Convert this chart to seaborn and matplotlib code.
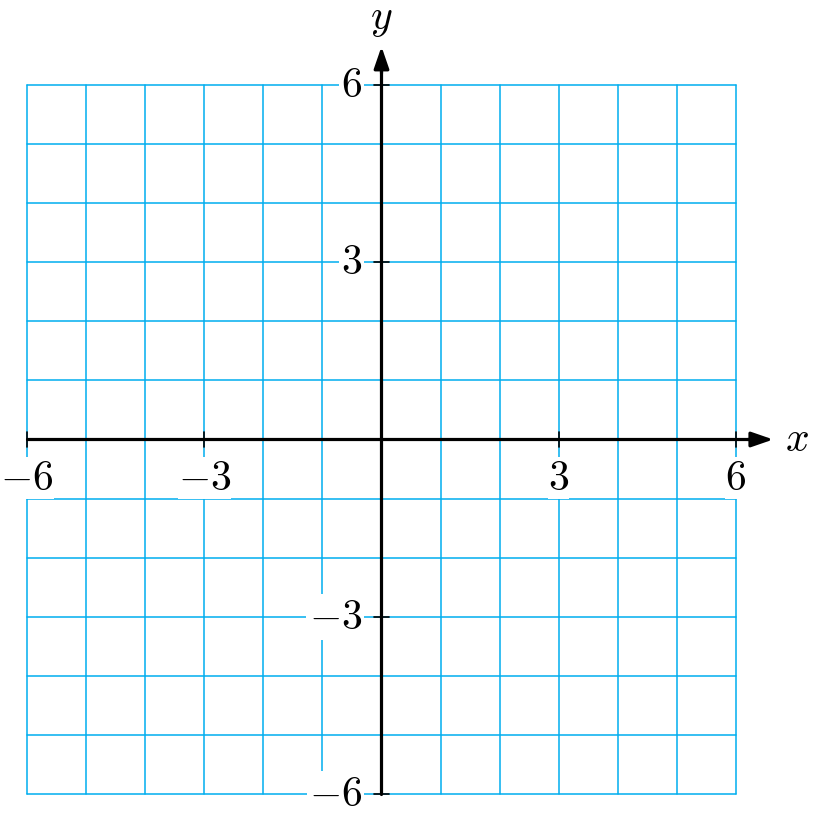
import numpy as np
import pandas as pd
import matplotlib.pyplot as plt
import seaborn as sns

# ── Data ────────────────────────────────────────────────────────────
grid_vals = list(range(-6, 7))          # grid lines every unit
tick_vals = [-6, -3, 3, 6]              # labelled ticks
tick_labels = [r"$-6$", r"$-3$", r"$3$", r"$6$"]
lo, hi = -6, 6

GRID_COLOR = "#00AEEF"

sns.set_theme(style="white")
plt.rcParams["mathtext.fontset"] = "cm"

fig = plt.figure(figsize=(8.17, 8.13), dpi=100, facecolor="white")
ax = fig.add_axes([0, 0, 1, 1])
ax.set_xlim(-6.457, 7.371)
ax.set_ylim(-6.322, 7.439)
ax.set_axis_off()

# grid segments in long form for seaborn
rows = []
for i, v in enumerate(grid_vals):
    rows += [{"x": v, "y": lo, "seg": f"v{i}"}, {"x": v, "y": hi, "seg": f"v{i}"}]
    rows += [{"x": lo, "y": v, "seg": f"h{i}"}, {"x": hi, "y": v, "seg": f"h{i}"}]
grid_df = pd.DataFrame(rows)
sns.lineplot(data=grid_df, x="x", y="y", units="seg", estimator=None,
             sort=False, color=GRID_COLOR, lw=1.1, ax=ax, zorder=1)

# axes with arrows
ax.plot([lo, 6.4], [0, 0], color="black", lw=2.3, zorder=4)
ax.plot([0, 0], [lo, 6.4], color="black", lw=2.3, zorder=4)
arrow = dict(arrowstyle="-|>,head_length=1.1,head_width=0.38",
             color="black", lw=2.3, shrinkA=0, shrinkB=0)
ax.annotate("", xy=(6.63, 0), xytext=(6.2, 0), arrowprops=arrow, zorder=5)
ax.annotate("", xy=(0, 6.65), xytext=(0, 6.2), arrowprops=arrow, zorder=5)

ax.text(7.03, 0, r"$x$", fontsize=30, ha="center", va="center", color="black")
ax.text(0, 7.13, r"$y$", fontsize=30, ha="center", va="center", color="black")

# ticks and labels
tk = 0.13
box = dict(boxstyle="square,pad=0.05", fc="white", ec="none")
xbox = dict(boxstyle="square,pad=0.0", fc="white", ec="none")
for v, lab in zip(tick_vals, tick_labels):
    ax.plot([v, v], [-tk, tk], color="black", lw=1.2, zorder=4)
    ax.plot([-tk, tk], [v, v], color="black", lw=1.2, zorder=4)
    ax.text(v, -0.86, lab, fontsize=30, ha="center", va="baseline",
            color="black", bbox=xbox, zorder=3)
    ax.text(-0.33, v, lab, fontsize=30, ha="right", va="center",
            color="black", bbox=box, zorder=3)

fig.savefig("out.png", dpi=100, facecolor="white")
